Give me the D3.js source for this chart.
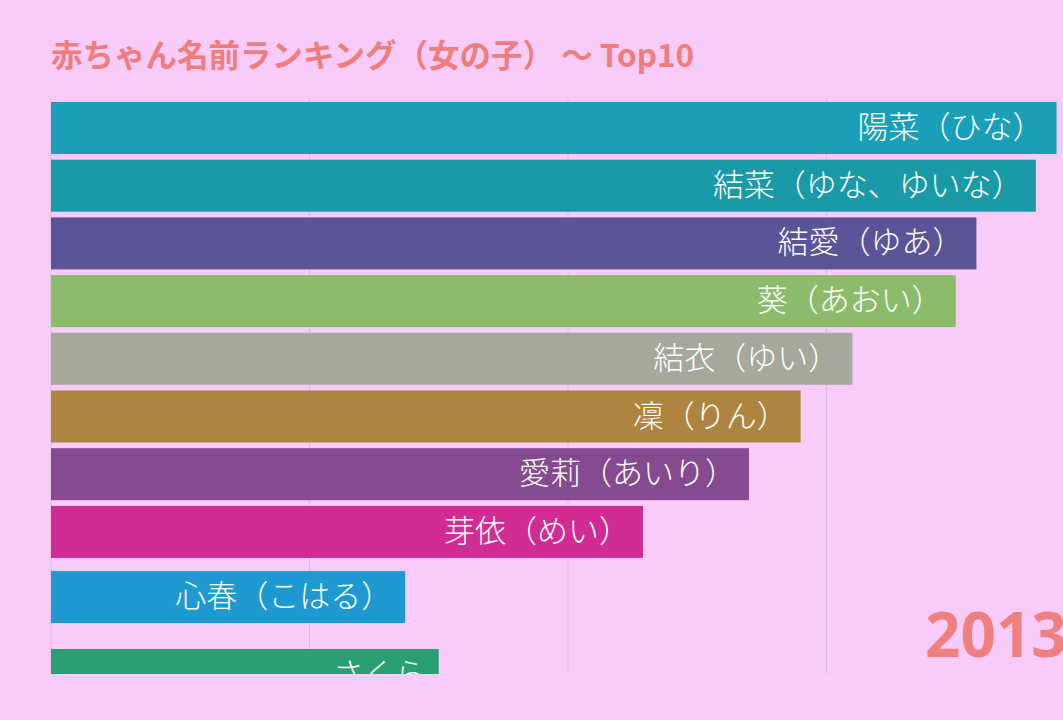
<!DOCTYPE html>
<html lang="ja">
<head>
  <meta charset="UTF-8">
  <title>赤ちゃん名前ランキング（女の子）</title>
  <script src="https://d3js.org/d3.v7.min.js"></script>
  <style>
    body {
      margin: 0;
      background: #f8cbf8;
      font-family: "Noto Sans CJK JP", "Noto Sans", sans-serif;
    }
    svg { display: block; }
  </style>
</head>
<body>
  <div id="chart"></div>

  <script>
    // 2013年の一コマ（アニメーション途中のフレーム）
    const names = ["陽菜（ひな）", "結菜（ゆな、ゆいな）", "結愛（ゆあ）", "葵（あおい）", "結衣（ゆい）",
                   "凜（りん）", "愛莉（あいり）", "芽依（めい）", "心春（こはる）", "さくら"];
    const values = [389, 381, 358, 350, 310, 290, 270, 229, 137, 150];
    // 表示上の順位（移動中のバーは小数）
    const ranks = [0, 1, 2, 3, 4, 5, 6, 7, 8.13, 9.48];
    const colors = ["#199fb8", "#1a9aa6", "#5b5496", "#8dbb6c", "#a6a89c",
                    "#ad8440", "#854a8f", "#d02c94", "#1f9ad0", "#2a9f73"];
    const gridTicks = [0, 100, 200, 300];
    const year = "2013";

    const width = 1063, height = 720;
    const margin = { top: 102, left: 51, bottom: 46 };

    const data = names.map((n, i) => ({ name: n, value: values[i], rank: ranks[i], color: colors[i] }));

    const svg = d3.select("#chart").append("svg")
      .attr("width", width)
      .attr("height", height);

    const x = d3.scaleLinear().domain([0, 400]).range([margin.left, margin.left + 1034]);
    const y = d3.scaleLinear().domain([0, 1]).range([margin.top, margin.top + 57.7]);
    const barH = 52;

    svg.append("defs").append("clipPath").attr("id", "clip")
      .append("rect")
      .attr("x", 0).attr("y", margin.top - 4)
      .attr("width", width).attr("height", height - margin.bottom - margin.top + 4);

    // タイトル
    svg.append("text")
      .attr("x", margin.left).attr("y", 67)
      .attr("fill", "#f07d7d")
      .style("font-size", "31.5px")
      .style("font-weight", "700")
      .text("赤ちゃん名前ランキング（女の子） ～ Top10");

    const g = svg.append("g").attr("clip-path", "url(#clip)");

    g.selectAll("line.grid")
      .data(gridTicks)
      .join("line")
      .attr("class", "grid")
      .attr("x1", d => x(d)).attr("x2", d => x(d))
      .attr("y1", margin.top - 4).attr("y2", height - margin.bottom)
      .attr("stroke", "#d6c0d6")
      .attr("stroke-width", 1);

    g.selectAll("rect.bar")
      .data(data)
      .join("rect")
      .attr("class", "bar")
      .attr("x", x(0))
      .attr("y", d => y(d.rank))
      .attr("width", d => x(d.value) - x(0))
      .attr("height", barH)
      .attr("fill", d => d.color);

    g.selectAll("text.label")
      .data(data)
      .join("text")
      .attr("class", "label")
      .attr("x", d => x(d.value) - 13)
      .attr("y", d => y(d.rank) + barH / 2 + 10)
      .attr("text-anchor", "end")
      .attr("fill", "#fff")
      .style("font-size", "31px")
      .style("font-weight", "300")
      .text(d => d.name);

    // 年表示
    svg.append("text")
      .attr("x", 925).attr("y", 657)
      .attr("fill", "#f08080")
      .style("font-family", "'Open Sans', 'Noto Sans', sans-serif")
      .style("font-size", "62px")
      .style("font-weight", "700")
      .text(year);
  </script>
</body>
</html>
